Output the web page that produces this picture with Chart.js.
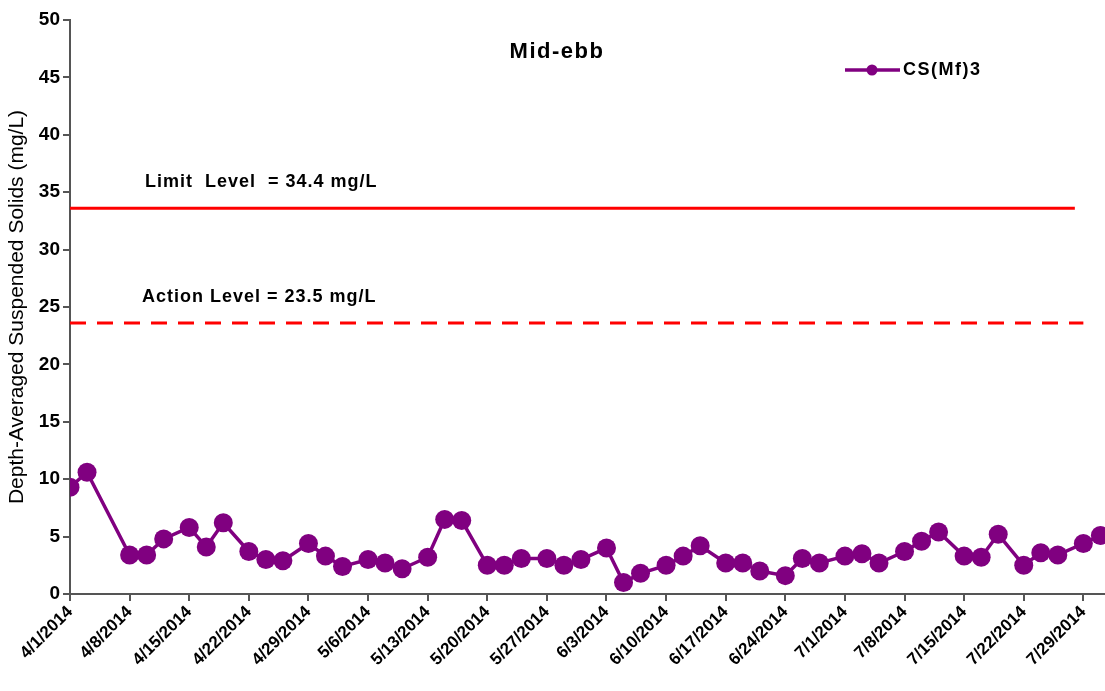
<!DOCTYPE html>
<html>
<head>
<meta charset="utf-8">
<script src="https://cdn.jsdelivr.net/npm/chart.js@4.4.0/dist/chart.umd.min.js"></script>
<style>
  html, body { margin: 0; padding: 0; background: #fff; overflow: hidden; }
  #frame { width: 1105px; height: 691px; overflow: hidden; }
  /* a little wider than the frame so the plot runs to the right edge, as in the original */
  #wrap { width: 1115px; height: 691px; position: relative; }
</style>
</head>
<body>
<div id="frame"><div id="wrap"><canvas id="js-tss__chart"></canvas></div></div>
<script>
// Mid-ebb TSS chart
const startDate = '4/1/2014';

const sampleDates = [
  '4/1/2014', '4/3/2014',
  '4/8/2014', '4/10/2014', '4/12/2014',
  '4/15/2014', '4/17/2014', '4/19/2014',
  '4/22/2014', '4/24/2014', '4/26/2014',
  '4/29/2014', '5/1/2014', '5/3/2014',
  '5/6/2014', '5/8/2014', '5/10/2014',
  '5/13/2014', '5/15/2014', '5/17/2014',
  '5/20/2014', '5/22/2014', '5/24/2014',
  '5/27/2014', '5/29/2014', '5/31/2014',
  '6/3/2014', '6/5/2014', '6/7/2014',
  '6/10/2014', '6/12/2014', '6/14/2014',
  '6/17/2014', '6/19/2014', '6/21/2014',
  '6/24/2014', '6/26/2014', '6/28/2014',
  '7/1/2014', '7/3/2014', '7/5/2014',
  '7/8/2014', '7/10/2014', '7/12/2014',
  '7/15/2014', '7/17/2014', '7/19/2014',
  '7/22/2014', '7/24/2014', '7/26/2014',
  '7/29/2014', '7/31/2014'
];

const csMf3 = [
  9.3, 10.6,
  3.4, 3.4, 4.8,
  5.8, 4.1, 6.2,
  3.7, 3.0, 2.9,
  4.4, 3.3, 2.4,
  3.0, 2.7, 2.2,
  3.2, 6.5, 6.4,
  2.5, 2.5, 3.1,
  3.1, 2.5, 3.0,
  4.0, 1.0, 1.8,
  2.5, 3.3, 4.2,
  2.7, 2.7, 2.0,
  1.6, 3.1, 2.7,
  3.3, 3.5, 2.7,
  3.7, 4.6, 5.4,
  3.3, 3.2, 5.2,
  2.5, 3.6, 3.4,
  4.4, 5.1
];

const limitDates = ['4/1/2014', '7/28/2014'];
const limitValues = [33.6, 33.6];
const actionDates = ['4/1/2014', '7/29/2014'];
const actionValues = [23.6, 23.6];

// weekly tick dates on the x axis, 5 mg/L steps on the y axis
const xTickDates = [
  '4/1/2014', '4/8/2014', '4/15/2014', '4/22/2014', '4/29/2014',
  '5/6/2014', '5/13/2014', '5/20/2014', '5/27/2014', '6/3/2014',
  '6/10/2014', '6/17/2014', '6/24/2014', '7/1/2014', '7/8/2014',
  '7/15/2014', '7/22/2014', '7/29/2014'
];
const yTicks = [0, 5, 10, 15, 20, 25, 30, 35, 40, 45, 50];

const font = "'Liberation Sans', Arial, sans-serif";
const purple = '#800080';
const red = '#ff0000';

function dayOf(s) {
  const [m, d, y] = s.split('/').map(Number);
  const [m0, d0, y0] = startDate.split('/').map(Number);
  return Math.round((Date.UTC(y, m - 1, d) - Date.UTC(y0, m0 - 1, d0)) / 86400000);
}

function dateLabel(day) {
  const [m0, d0, y0] = startDate.split('/').map(Number);
  const dt = new Date(Date.UTC(y0, m0 - 1, d0) + Math.round(day) * 86400000);
  return (dt.getUTCMonth() + 1) + '/' + dt.getUTCDate() + '/' + dt.getUTCFullYear();
}

const toPoints = (dates, values) => dates.map((d, i) => ({ x: dayOf(d), y: values[i] }));

// text drawn inside the plot: title, level labels, legend
const annotations = {
  id: 'annotations',
  afterDraw(chart) {
    const ctx = chart.ctx;
    const yScale = chart.scales.y;
    ctx.save();
    ctx.fillStyle = '#000';
    ctx.textBaseline = 'middle';

    ctx.font = 'bold 22px ' + font;
    ctx.letterSpacing = '1.5px';
    ctx.textAlign = 'center';
    ctx.fillText('Mid-ebb', 557, 52);

    ctx.font = 'bold 18px ' + font;
    ctx.letterSpacing = '1px';
    ctx.textAlign = 'left';
    ctx.fillText('Limit  Level  = 34.4 mg/L', 145, yScale.getPixelForValue(limitValues[0]) - 26);
    ctx.fillText('Action Level = 23.5 mg/L', 142, yScale.getPixelForValue(actionValues[0]) - 26);

    // legend
    const ds = chart.data.datasets[0];
    ctx.strokeStyle = ds.borderColor;
    ctx.lineWidth = 3.5;
    ctx.beginPath();
    ctx.moveTo(845, 70);
    ctx.lineTo(900, 70);
    ctx.stroke();
    ctx.fillStyle = ds.backgroundColor;
    ctx.beginPath();
    ctx.arc(872, 70, 5.5, 0, Math.PI * 2);
    ctx.fill();
    ctx.fillStyle = '#000';
    ctx.font = 'bold 18px ' + font;
    ctx.letterSpacing = '1.5px';
    ctx.fillText(ds.label, 903, 70);
    ctx.restore();
  }
};

const tssConfig = {
  type: 'line',
  data: {
    datasets: [{
      label: 'CS(Mf)3',
      data: toPoints(sampleDates, csMf3),
      borderColor: purple,
      backgroundColor: purple,
      borderWidth: 3.5,
      pointRadius: 9.5,
      pointHoverRadius: 9.5,
      pointBorderWidth: 0,
      order: 0
    },
    {
      label: 'Limit Level',
      data: toPoints(limitDates, limitValues),
      borderColor: red,
      borderWidth: 3,
      pointRadius: 0,
      order: 1
    },
    {
      label: 'Action Level',
      data: toPoints(actionDates, actionValues),
      borderColor: red,
      borderWidth: 3,
      borderDash: [16, 11],
      pointRadius: 0,
      order: 2
    }]
  },
  options: {
    responsive: true,
    maintainAspectRatio: false,
    animation: false,
    layout: {
      padding: { top: 20, right: 0, bottom: 0, left: 0 }
    },
    plugins: {
      legend: { display: false },
      tooltip: { enabled: false }
    },
    scales: {
      x: {
        type: 'linear',
        min: 0,
        max: 121.6,
        afterBuildTicks(scale) {
          scale.ticks = xTickDates.map(d => ({ value: dayOf(d) }));
        },
        afterFit(scale) {
          scale.height = 97;
          scale.paddingLeft = 0;
          scale.paddingRight = 0;
        },
        ticks: {
          autoSkip: false,
          maxRotation: 45,
          minRotation: 45,
          color: '#000',
          font: { family: font, size: 17, weight: 'bold' },
          padding: 1,
          callback: (v) => dateLabel(v)
        },
        grid: {
          drawOnChartArea: false,
          drawTicks: true,
          tickLength: 7,
          color: '#555',
          lineWidth: 2
        },
        border: { color: '#555', width: 2 }
      },
      y: {
        min: 0,
        max: 50,
        afterBuildTicks(scale) {
          scale.ticks = yTicks.map(v => ({ value: v }));
        },
        afterFit(scale) {
          scale.width = 70;
        },
        ticks: {
          color: '#000',
          font: { family: font, size: 19, weight: 'bold' },
          padding: 3
        },
        title: {
          display: true,
          text: 'Depth-Averaged Suspended Solids (mg/L)',
          color: '#000',
          font: { family: font, size: 21 },
          padding: { top: 5, bottom: 0 }
        },
        grid: {
          drawOnChartArea: false,
          drawTicks: true,
          tickLength: 7,
          color: '#555',
          lineWidth: 2
        },
        border: { color: '#555', width: 2 }
      }
    }
  },
  plugins: [annotations]
};

const tssChart = new Chart(
  document.getElementById('js-tss__chart'),
  tssConfig
);
</script>
</body>
</html>
